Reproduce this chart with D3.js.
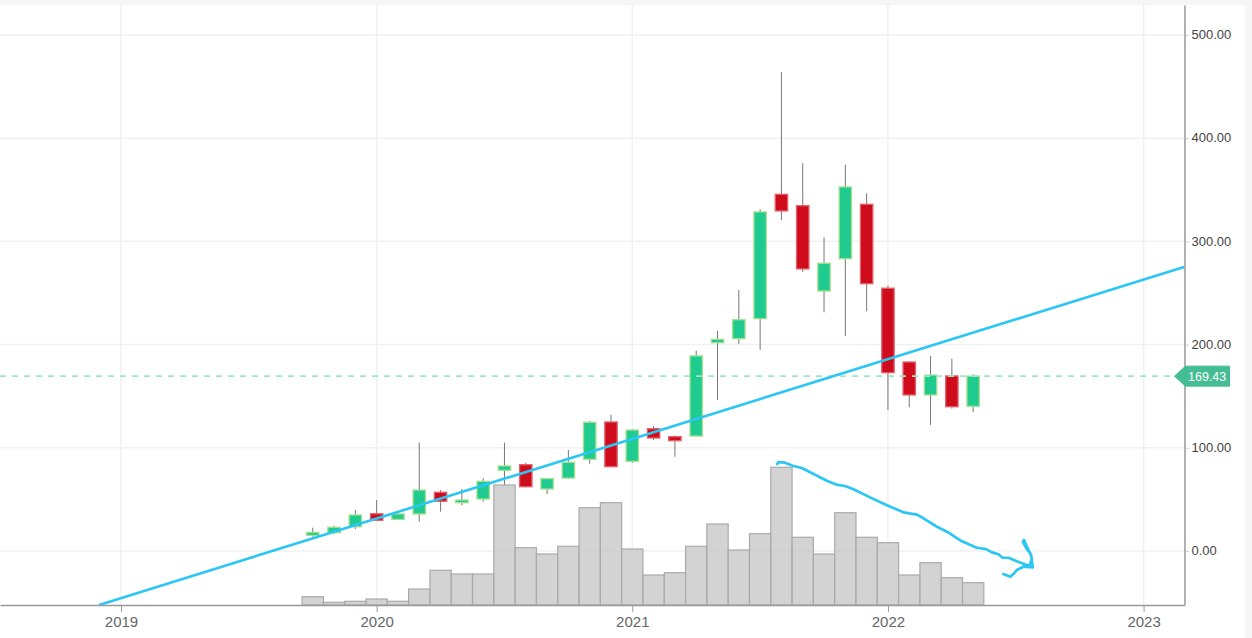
<!DOCTYPE html>
<html>
<head>
<meta charset="utf-8">
<script src="https://cdn.jsdelivr.net/npm/d3@7"></script>
<style>
  html, body { margin: 0; padding: 0; background: #f6f6f6; overflow: hidden; }
  svg { display: block; font-family: "Liberation Sans", Arial, sans-serif; }
</style>
</head>
<body>
<svg id="chart" width="1252" height="638"></svg>
<script>
// months counted from Jan 2019
var months = [9,10,11,12,13,14,15,16,17,18,19,20,21,22,23,24,25,26,27,28,29,30,31,32,33,34,35,36,37,38,39,40];
var opens  = [15.2,17.7,23.5,36.1,30.7,35.9,56.9,46.8,50.4,78.2,83.6,60.1,70.7,88.9,125,86.9,118.5,110.8,111.4,201.8,205.7,225.1,345.6,334.6,251.9,283.2,335.9,254.6,183.1,151.2,169.6,140.2];
var highs  = [22.6,24.2,39.7,49.4,37.1,104.9,59.1,60.1,70.7,104.9,85.6,70.1,97.9,126,132.1,118.2,121.1,112.1,194.1,213.2,252.9,331.1,463.9,375.7,304,374.3,346.6,257.1,184.1,189,186.3,171.2];
var lows   = [13.9,16.5,21.3,29.4,30,28.4,38.1,44.3,47.8,64,61.7,55.2,69.8,84.6,81.7,85.3,107.6,91.4,111.4,146.3,200.6,194.8,320.7,270.3,231.3,208.3,232.3,136.6,139.2,122.1,137.9,134.4];
var closes = [18.1,23,34.9,29.7,35.9,59.1,48.2,49.4,67.5,82.4,62.3,70.1,85.9,124.7,81.7,117.2,109.5,106.9,189,205.1,224.1,328.5,329.5,273.3,278.8,352.7,259,172.8,151.2,170.5,139.8,169.43];
var volumes = [16.6,5.4,7.4,12,7.4,32,69.4,62,62,240,114.6,102,117.4,194.6,204.6,112,60,64.6,117.4,162,110,142.6,275.4,135.4,102,184.6,135.4,124.6,60,84.6,54.6,44.6];

var yTicks = [0,100,200,300,400,500];
var xTicks = [0,12,24,36,48];
var xTickLabels = ["2019","2020","2021","2022","2023"];
var lastPrice = 169.43;

var trendMonths = [-1.03,49.9];
var trendPrices = [-52.3,275.2];

// hand drawn curve on top of the chart
var drawMonths = [30.8,30.86,31.17,31.56,31.96,32.35,33.13,33.63,33.99,34.38,35.16,35.95,36.73,37.36,37.67,38.3,38.77,39.47,40.17,40.61,40.88,41.19,41.38,41.66,42.05,42.64,42.76,42.68,42.52,42.33,42.39,42.52,42.72,42.8,42.36,42.05,41.89,41.74,41.42];
var drawPrices = [84.3,86.2,85.6,82.4,80.4,76.3,68.1,64,63,59.8,52,44.3,37.5,35.2,31.7,23.5,18.7,9.4,3.2,1.9,-1.3,-3.2,-6.5,-6.5,-10,-14.5,-7.1,-2.2,1.9,9,10.7,4.2,-3.9,-15.8,-15.2,-18.4,-22.3,-24.9,-22.3];

var svg = d3.select("#chart");

var plotRight = 1184.5, plotTop = 5, plotBottom = 605;

// white chart area, page grey shows on top and right
svg.append("rect").attr("x", 0).attr("y", plotTop).attr("width", 1245).attr("height", 638 - plotTop).attr("fill", "#fff");

var x = d3.scaleLinear().domain([-5.68, 49.92]).range([0, plotRight]);
var y = d3.scaleLinear().domain([-52.3, 529]).range([plotBottom, plotTop]);
var vol = d3.scaleLinear().domain([0, 300]).range([plotBottom, plotBottom - 150]);

// grid
svg.append("g").selectAll("line").data(yTicks).join("line")
  .attr("x1", 0).attr("x2", plotRight)
  .attr("y1", d => y(d)).attr("y2", d => y(d))
  .attr("stroke", "#f1f1f1").attr("stroke-width", 1.5);
svg.append("g").selectAll("line").data(xTicks).join("line")
  .attr("x1", d => x(d)).attr("x2", d => x(d))
  .attr("y1", plotTop).attr("y2", plotBottom)
  .attr("stroke", "#f1f1f1").attr("stroke-width", 1.5);

// candles
var candles = svg.append("g");
candles.selectAll("line").data(months).join("line")
  .attr("x1", d => x(d)).attr("x2", d => x(d))
  .attr("y1", (d, i) => y(highs[i])).attr("y2", (d, i) => y(lows[i]))
  .attr("stroke", "#777").attr("stroke-width", 1);
candles.selectAll("rect").data(months).join("rect")
  .attr("x", d => x(d) - 6.2)
  .attr("width", 12.4)
  .attr("y", (d, i) => y(Math.max(opens[i], closes[i])))
  .attr("height", (d, i) => Math.abs(y(opens[i]) - y(closes[i])))
  .attr("fill", (d, i) => closes[i] > opens[i] ? "#1fcb8e" : "#cf0c1c")
  .attr("stroke", (d, i) => closes[i] > opens[i] ? "#a3e08f" : "#e4606c")
  .attr("stroke-width", 1.3);

// volume
svg.append("g").selectAll("rect").data(months).join("rect")
  .attr("x", d => x(d - 0.5))
  .attr("width", x(1) - x(0))
  .attr("y", (d, i) => vol(volumes[i]))
  .attr("height", (d, i) => plotBottom - vol(volumes[i]))
  .attr("fill", "rgba(200,200,200,0.8)")
  .attr("stroke", "#aaa").attr("stroke-width", 1.2);

// last price line
svg.append("line")
  .attr("x1", 0).attr("x2", plotRight - 10)
  .attr("y1", y(lastPrice)).attr("y2", y(lastPrice))
  .attr("stroke", "#a3e2cc").attr("stroke-width", 1.8)
  .attr("stroke-dasharray", "6,6");

// trend line
var line = d3.line().x(d => x(d[0])).y(d => y(d[1]));
svg.append("path")
  .datum(d3.zip(trendMonths, trendPrices))
  .attr("d", line)
  .attr("fill", "none").attr("stroke", "#2cc6f5").attr("stroke-width", 2.6);

svg.append("path")
  .datum(d3.zip(drawMonths, drawPrices))
  .attr("d", line)
  .attr("fill", "none").attr("stroke", "#2cc6f5").attr("stroke-width", 2.7)
  .attr("stroke-linejoin", "round").attr("stroke-linecap", "round");

// axes
var xAxis = d3.axisBottom(x).tickValues(xTicks).tickFormat((d, i) => xTickLabels[i]).tickSize(7).tickSizeOuter(0).tickPadding(4);
var gx = svg.append("g").attr("transform", "translate(0," + plotBottom + ")").call(xAxis);
gx.select(".domain").attr("stroke", "#999").attr("stroke-width", 1.5);
gx.selectAll(".tick line").attr("stroke", "#999");
gx.selectAll("text").attr("fill", "#666").style("font-size", "15px").style("font-family", "Liberation Sans");

var yAxis = d3.axisRight(y).tickValues(yTicks).tickFormat(d3.format(".2f")).tickSize(4).tickSizeOuter(0).tickPadding(3);
var gy = svg.append("g").attr("transform", "translate(" + plotRight + ",0)").call(yAxis);
gy.select(".domain").attr("stroke", "#999").attr("stroke-width", 1.5);
gy.selectAll(".tick line").attr("stroke", "#bbb").attr("x1", 2);
gy.selectAll("text").attr("fill", "#444").attr("dy", "0.28em").style("font-size", "13px").style("font-family", "Liberation Sans");

// last price tag
var tagY = y(lastPrice);
svg.append("path")
  .attr("d", "M" + (plotRight - 10) + "," + tagY + "L" + (plotRight + 1) + "," + (tagY - 10) +
    "H" + (plotRight + 45) + "V" + (tagY + 10) + "H" + (plotRight + 1) + "Z")
  .attr("fill", "#45bd94").attr("stroke", "#45bd94").attr("stroke-linejoin", "round");
svg.append("text")
  .attr("x", plotRight + 3.5).attr("y", tagY + 4.5)
  .attr("fill", "#fff").style("font-size", "12.5px")
  .text(lastPrice.toFixed(2));
</script>
</body>
</html>
